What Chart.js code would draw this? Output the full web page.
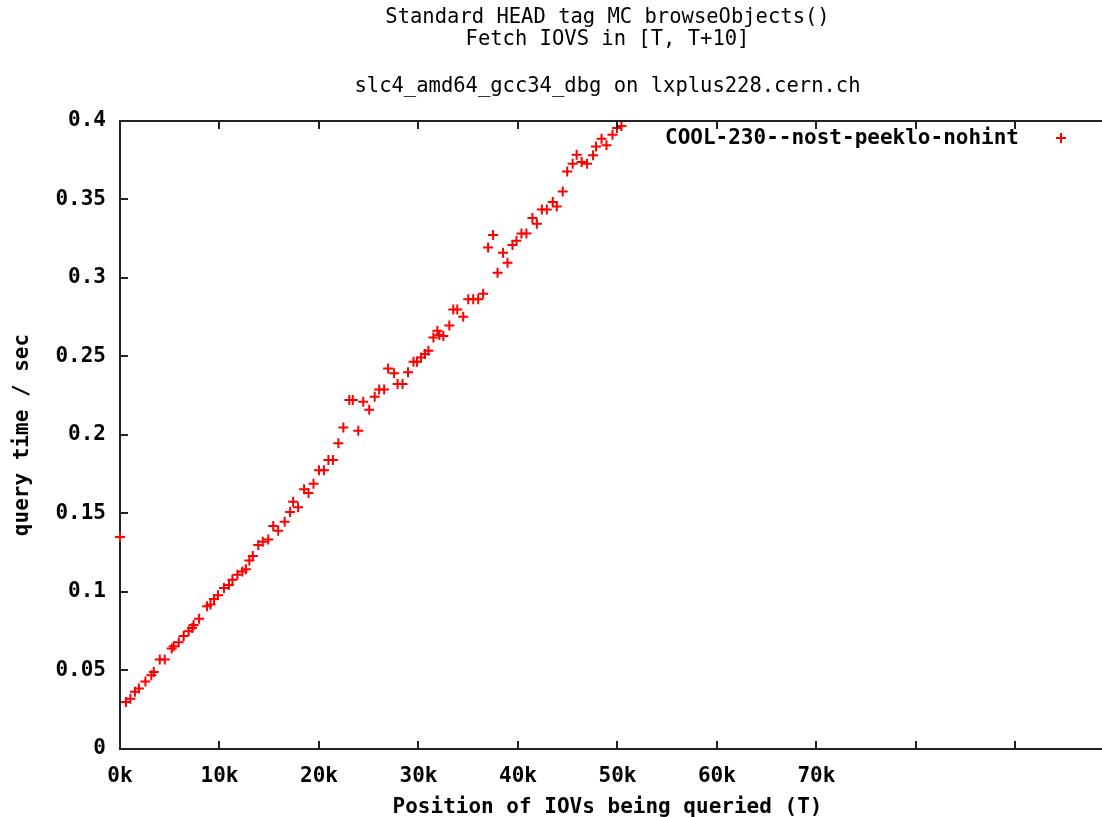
<!DOCTYPE html>
<html>
<head>
<meta charset="utf-8">
<script src="https://cdn.jsdelivr.net/npm/chart.js@4/dist/chart.umd.min.js"></script>
<style>
  html, body { margin: 0; padding: 0; background: #fff; }
  #wrap { width: 1102px; height: 817px; }
</style>
</head>
<body>
<div id="wrap"><canvas id="queryChart"></canvas></div>
<script>
// position of IOVs (T) and query time in seconds
const posT = [
    0, 600, 1050, 1500, 1900, 2550, 3150, 3400, 4000, 4500,
    5200, 5400, 5900, 6400, 6900, 7250, 7400, 7950, 8750, 9100,
    9450, 9850, 10450, 10950, 11300, 11800, 12300, 12650, 13000, 13350,
    13900, 14350, 14900, 15400, 15900, 16550, 17100, 17400, 17900, 18500,
    18950, 19450, 20000, 20500, 20950, 21400, 21950, 22450, 23050, 23400,
    23950, 24450, 25050, 25600, 26050, 26550, 26950, 27550, 27900, 28400,
    28950, 29500, 29850, 30250, 30650, 31000, 31500, 31900, 32100, 32500,
    33100, 33500, 33900, 34500, 35000, 35500, 36000, 36500, 37000, 37500,
    37950, 38500, 38950, 39450, 39850, 40350, 40850, 41450, 41900, 42400,
    42900, 43500, 43900, 44500, 44950, 45500, 45900, 46400, 46950, 47550,
    47850, 48400, 48900, 49500, 49950, 50400
];
const queryTime = [
    0.135, 0.030, 0.032, 0.0365, 0.0386, 0.043, 0.047, 0.049, 0.057, 0.057,
    0.064, 0.0655, 0.068, 0.072, 0.075, 0.077, 0.079, 0.083, 0.091, 0.092,
    0.0955, 0.098, 0.1025, 0.1045, 0.1078, 0.111, 0.113, 0.1145, 0.120, 0.123,
    0.130, 0.132, 0.1335, 0.142, 0.139, 0.1448, 0.151, 0.1575, 0.154, 0.1655,
    0.163, 0.169, 0.1775, 0.1775, 0.184, 0.184, 0.1947, 0.2048, 0.2223, 0.2223,
    0.2027, 0.2212, 0.216, 0.2244, 0.229, 0.229, 0.2424, 0.2393, 0.2325, 0.2325,
    0.240, 0.2467, 0.2467, 0.2494, 0.2516, 0.2537, 0.2621, 0.2664, 0.2637, 0.263,
    0.2698, 0.280, 0.280, 0.2753, 0.2864, 0.2864, 0.2864, 0.290, 0.3195, 0.3274,
    0.3034, 0.316, 0.3097, 0.321, 0.3238, 0.3284, 0.3284, 0.3382, 0.3346, 0.3437,
    0.3437, 0.3484, 0.3455, 0.3551, 0.3679, 0.3728, 0.3785, 0.3739, 0.3728, 0.3781,
    0.3838, 0.3887, 0.3845, 0.3913, 0.3955, 0.3968
];
const seriesLabel = 'COOL-230--nost-peeklo-nohint';
const titleLines = ['Standard HEAD tag MC browseObjects()', 'Fetch IOVS in [T, T+10]'];
const subTitle = 'slc4_amd64_gcc34_dbg on lxplus228.cern.ch';
const xTickValues = [0, 10000, 20000, 30000, 40000, 50000, 60000, 70000, 80000, 90000];
const xLabelMax = 70000;

const MONO = "'DejaVu Sans Mono', 'Liberation Mono', monospace";
const axisColor = '#222';

// gnuplot style: ticks point into the plot, top border mirrored
const frameTicks = {
    id: 'frameTicks',
    afterDraw(chart) {
        const ctx = chart.ctx;
        const a = chart.chartArea;
        const xs = chart.scales.x;
        const ys = chart.scales.y;
        ctx.save();
        ctx.strokeStyle = axisColor;
        ctx.lineWidth = 2;
        ctx.beginPath();
        ctx.moveTo(a.left, a.top);
        ctx.lineTo(chart.width, a.top);
        xs.ticks.forEach(t => {
            const px = Math.round(xs.getPixelForValue(t.value));
            ctx.moveTo(px, a.bottom);
            ctx.lineTo(px, a.bottom - 8);
            ctx.moveTo(px, a.top);
            ctx.lineTo(px, a.top + 8);
        });
        ys.ticks.forEach(t => {
            const py = Math.round(ys.getPixelForValue(t.value));
            ctx.moveTo(a.left, py);
            ctx.lineTo(a.left + 8, py);
        });
        ctx.moveTo(a.right, a.bottom);
        ctx.lineTo(chart.width, a.bottom);
        ctx.stroke();
        ctx.restore();
    }
};

// key in the top right corner, like gnuplot
const cornerKey = {
    id: 'cornerKey',
    afterDraw(chart) {
        const ctx = chart.ctx;
        const ds = chart.data.datasets[0];
        ctx.save();
        ctx.font = 'bold 21px ' + MONO;
        ctx.fillStyle = '#000';
        ctx.textAlign = 'right';
        ctx.textBaseline = 'middle';
        ctx.fillText(ds.label, 1019, 139);
        ctx.strokeStyle = ds.borderColor;
        ctx.lineWidth = ds.pointBorderWidth;
        ctx.beginPath();
        ctx.moveTo(1061 - ds.pointRadius, 138);
        ctx.lineTo(1061 + ds.pointRadius, 138);
        ctx.moveTo(1061, 138 - ds.pointRadius);
        ctx.lineTo(1061, 138 + ds.pointRadius);
        ctx.stroke();
        ctx.restore();
    }
};

function buatChart() {
    const ctx = document.getElementById('queryChart').getContext('2d');
    const points = posT.map((t, i) => ({ x: t, y: queryTime[i] }));

    return new Chart(ctx, {
        type: 'scatter',
        data: {
            datasets: [{
                label: seriesLabel,
                data: points,
                pointStyle: 'cross',
                pointRadius: 5,
                pointHoverRadius: 5,
                pointBorderWidth: 2,
                borderColor: '#ff0000',
                backgroundColor: '#ff0000',
                clip: 8
            }]
        },
        options: {
            responsive: true,
            maintainAspectRatio: false,
            animation: false,
            events: [],
            layout: { padding: 0 },
            plugins: {
                legend: { display: false },
                tooltip: { enabled: false },
                title: {
                    display: true,
                    text: titleLines,
                    fullSize: false,
                    color: '#000',
                    font: { family: MONO, size: 20.5, weight: 'normal', lineHeight: 1.073 },
                    padding: { top: 7, bottom: 0 }
                },
                subtitle: {
                    display: true,
                    text: subTitle,
                    fullSize: false,
                    color: '#000',
                    font: { family: MONO, size: 20.5, weight: 'normal', lineHeight: 1.073 },
                    padding: { top: 25, bottom: 23 }
                }
            },
            scales: {
                x: {
                    type: 'linear',
                    min: 0,
                    max: 98000,
                    grid: { display: false },
                    border: { display: true, color: axisColor, width: 2 },
                    afterBuildTicks: s => { s.ticks = xTickValues.map(v => ({ value: v })); },
                    ticks: {
                        maxRotation: 0,
                        autoSkip: false,
                        color: '#000',
                        padding: 7,
                        font: { family: MONO, size: 21, weight: 'bold' },
                        callback: v => (v <= xLabelMax ? (v / 1000) + 'k' : '')
                    },
                    title: {
                        display: true,
                        text: 'Position of IOVs being queried (T)',
                        color: '#000',
                        font: { family: MONO, size: 21, weight: 'bold' },
                        padding: { top: 0, bottom: -3 }
                    },
                    afterFit: s => { s.height = 68; s.paddingLeft = 0; s.paddingRight = 0; }
                },
                y: {
                    min: 0,
                    max: 0.4,
                    z: 1,
                    grid: { display: false },
                    border: { display: true, color: axisColor, width: 2 },
                    ticks: {
                        stepSize: 0.05,
                        color: '#000',
                        padding: 6,
                        font: { family: MONO, size: 21, weight: 'bold' },
                        callback: v => String(+v.toFixed(2))
                    },
                    title: {
                        display: true,
                        text: 'query time / sec',
                        color: '#000',
                        font: { family: MONO, size: 21, weight: 'bold' },
                        padding: { top: 10, bottom: 0 }
                    },
                    afterFit: s => { s.width = 120; }
                }
            }
        },
        plugins: [frameTicks, cornerKey]
    });
}

buatChart();
</script>
</body>
</html>
